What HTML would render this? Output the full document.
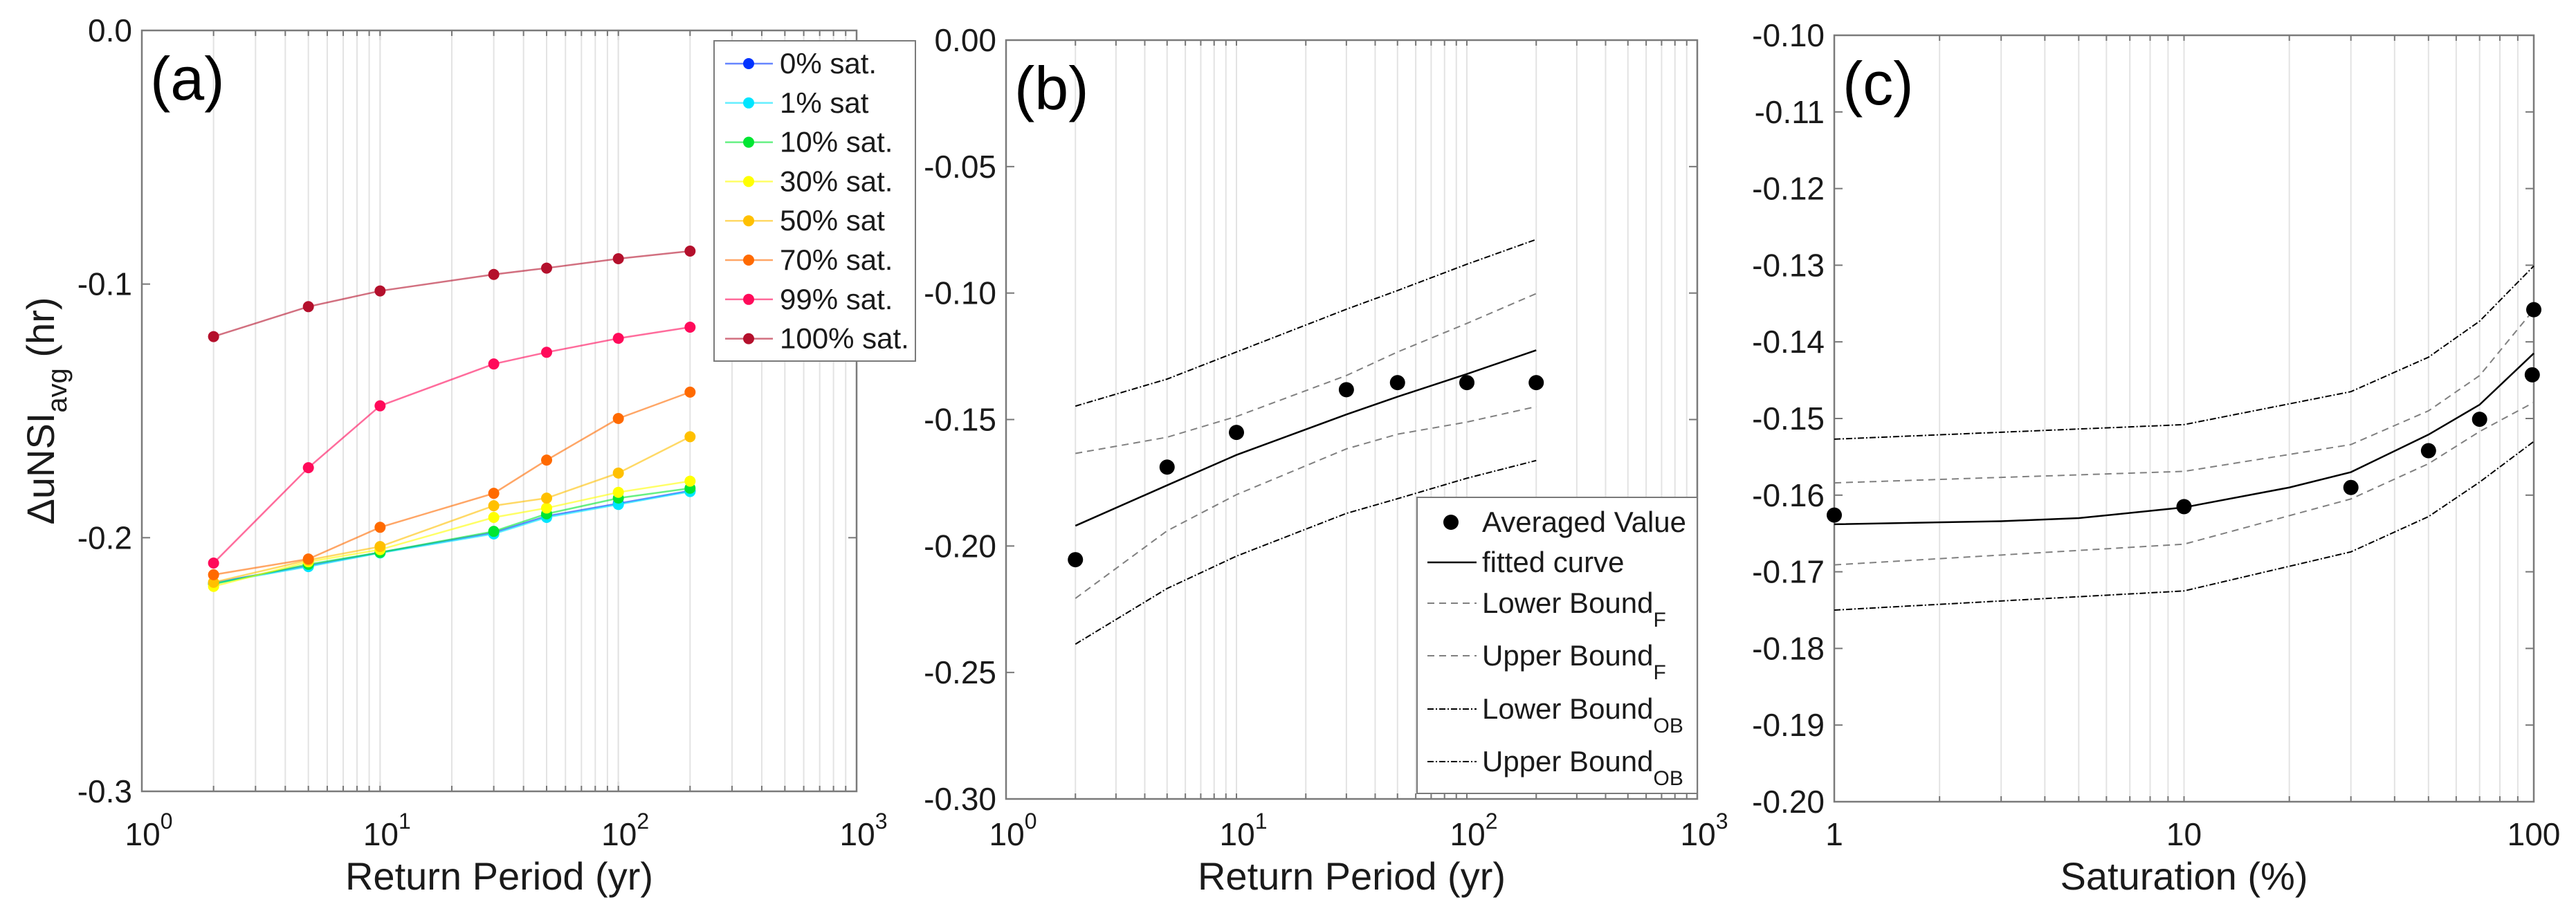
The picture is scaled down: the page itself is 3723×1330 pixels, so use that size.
<!DOCTYPE html>
<html><head><meta charset="utf-8"><style>
html,body{margin:0;padding:0;background:#fff;}
svg{display:block;font-family:"Liberation Sans",Arial,sans-serif;}
</style></head><body>
<svg id="fig" width="3723" height="1330" viewBox="0 0 3723 1330" xmlns="http://www.w3.org/2000/svg"></svg>
<script>
// ---------- Panel (a) data ----------
const aX = [2,5,10,30,50,100,200];
const aNames = ["0% sat.","1% sat","10% sat.","30% sat.","50% sat","70% sat.","99% sat.","100% sat."];
const aColors = ["#0033ff","#00e5ff","#00e632","#ffff00","#ffc000","#ff6a00","#ff0a5a","#b4102c"];
const aS0 = [-0.2178,-0.2110,-0.2058,-0.1980,-0.1915,-0.1865,-0.1815];
const aS1 = [-0.2180,-0.2114,-0.2060,-0.1985,-0.1920,-0.1869,-0.1818];
const aS10 = [-0.2183,-0.2105,-0.2058,-0.1975,-0.1906,-0.1844,-0.1805];
const aS30 = [-0.2192,-0.2095,-0.2047,-0.1920,-0.1883,-0.1821,-0.1777];
const aS50 = [-0.2176,-0.2088,-0.2035,-0.1874,-0.1844,-0.1745,-0.1602];
const aS70 = [-0.2146,-0.2084,-0.1959,-0.1825,-0.1694,-0.1530,-0.1426];
const aS99 = [-0.2100,-0.1724,-0.1480,-0.1315,-0.1269,-0.1214,-0.1170];
const aS100 = [-0.1207,-0.1089,-0.1027,-0.0962,-0.0937,-0.0900,-0.0870];
const aSeries = [aS0,aS1,aS10,aS30,aS50,aS70,aS99,aS100];
const aYTicks = [0,-0.1,-0.2,-0.3];
const aYLabels = ["0.0","-0.1","-0.2","-0.3"];
// ---------- Panel (b) data ----------
const bX = [2,5,10,30,50,100,200];
const bAvg = [-0.2054,-0.1688,-0.1551,-0.1382,-0.1354,-0.1354,-0.1354];
const bFit = [-0.1920,-0.1760,-0.1640,-0.1480,-0.1410,-0.1320,-0.1226];
const bLowF = [-0.2207,-0.1940,-0.1797,-0.1616,-0.1558,-0.1510,-0.1449];
const bUpF = [-0.1634,-0.1570,-0.1488,-0.1326,-0.1233,-0.1120,-0.1002];
const bLowOB = [-0.2388,-0.2168,-0.2040,-0.1871,-0.1813,-0.1732,-0.1662];
const bUpOB = [-0.1447,-0.1340,-0.1233,-0.1064,-0.0990,-0.0886,-0.0788];
const bYTicks = [0,-0.05,-0.1,-0.15,-0.2,-0.25,-0.3];
const bYLabels = ["0.00","-0.05","-0.10","-0.15","-0.20","-0.25","-0.30"];
// ---------- Panel (c) data ----------
const cX = [1,10,30,50,70,99,100];
const cAvg = [-0.1626,-0.1615,-0.1590,-0.1542,-0.1501,-0.1443,-0.1358];
const cFitX = [1,3,5,10,20,30,50,70,100];
const cFit = [-0.1638,-0.1634,-0.1630,-0.1616,-0.1590,-0.1570,-0.1521,-0.1482,-0.1415];
const cBX = [1,10,30,50,70,100];
const cUpF = [-0.1584,-0.1569,-0.1534,-0.1490,-0.1444,-0.1358];
const cLowF = [-0.1691,-0.1664,-0.1605,-0.1559,-0.1517,-0.1479];
const cUpOB = [-0.1527,-0.1508,-0.1465,-0.1420,-0.1373,-0.1301];
const cLowOB = [-0.1750,-0.1725,-0.1674,-0.1628,-0.1583,-0.1530];
const cYTicks = [-0.10,-0.11,-0.12,-0.13,-0.14,-0.15,-0.16,-0.17,-0.18,-0.19,-0.20];
const cYLabels = ["-0.10","-0.11","-0.12","-0.13","-0.14","-0.15","-0.16","-0.17","-0.18","-0.19","-0.20"];

const NS="http://www.w3.org/2000/svg";
const svg=document.getElementById('fig');
function mk(tag,attrs,parent){const e=document.createElementNS(NS,tag);for(const k in attrs)e.setAttribute(k,attrs[k]);(parent||svg).appendChild(e);return e;}

function makePanel(p){
  const g=mk('g',{});
  
  
  const lx0=Math.log10(p.xmin), lx1=Math.log10(p.xmax);
  p.sx=v=>p.L+(Math.log10(v)-lx0)/(lx1-lx0)*(p.R-p.L);
  p.sy=v=>p.T+(p.ymax-v)/(p.ymax-p.ymin)*(p.B-p.T);
  // grid
  const grid=mk('g',{},g);
  
  
  for(let d=Math.floor(lx0);d<lx1;d++){
    for(let m=1;m<=10;m++){
      const v=m*Math.pow(10,d); if(v<=p.xmin||v>=p.xmax) continue;
      const x=p.sx(v);
      mk('line',{x1:x,x2:x,y1:p.T,y2:p.B,stroke:'#e3e3e3','stroke-width':2},grid);
      mk('line',{x1:x,x2:x,y1:p.B,y2:p.B-(m===10?14:8),stroke:'#777','stroke-width':2},grid);
      mk('line',{x1:x,x2:x,y1:p.T,y2:p.T+(m===10?14:8),stroke:'#777','stroke-width':2},grid);
    }
  }
  // y ticks
  p.yTicks.forEach((v,i)=>{
    const y=p.sy(v);
    mk('line',{x1:p.L,x2:p.L+12,y1:y,y2:y,stroke:'#777','stroke-width':2},g);
    mk('line',{x1:p.R,x2:p.R-12,y1:y,y2:y,stroke:'#777','stroke-width':2},g);
    const t=mk('text',{x:p.L-14,y:y+16,'text-anchor':'end','font-size':46,fill:'#1a1a1a'},g);
    t.textContent=p.yLabels[i];
    
    
  });
  // x tick labels
  p.xTicks.forEach((v,i)=>{
    const x=p.sx(v);
    const t=mk('text',{x:x+(p.sup?10:0),y:1222,'text-anchor':'middle','font-size':46,fill:'#1a1a1a'},g);
    
    
    if(p.sup){t.textContent='10';const s=mk('tspan',{dy:-24,'font-size':32},t);s.textContent=String(i);}
    else t.textContent=p.xLabels[i];
  });
  // axes box
  const box=mk('rect',{x:p.L,y:p.T,width:p.R-p.L,height:p.B-p.T,fill:'none',stroke:'#7a7a7a','stroke-width':2.5},g);
  
  
  // x label
  const xl=mk('text',{x:(p.L+p.R)/2,y:1286,'text-anchor':'middle','font-size':56,fill:'#1a1a1a'},g);
  xl.textContent=p.xlabel;
  
  
  // panel label
  const pl=mk('text',{x:p.L+12,y:p.T+100,'font-size':88,fill:'#000'},g);
  pl.textContent=p.tag;
  
  
  p.g=g;
  return p;
}
function poly(p,xs,ys,attrs,name){
  const pts=xs.map((x,i)=>p.sx(x)+','+p.sy(ys[i])).join(' ');
  const e=mk('polyline',Object.assign({points:pts,fill:'none'},attrs),p.g);
  
  
  return e;
}
function dots(p,xs,ys,r,fill,name){
  xs.forEach((x,i)=>{
    const c=mk('circle',{cx:p.sx(x),cy:p.sy(ys[i]),r:r,fill:fill},p.g);
    
    
  });
}

// Panel a
const pa=makePanel({name:'panel-a',L:205,R:1238,T:44,B:1144,xmin:1,xmax:1000,ymin:-0.3,ymax:0,yTicks:aYTicks,yLabels:aYLabels,xTicks:[1,10,100,1000],sup:true,xlabel:'Return Period (yr)',tag:'(a)'});
aSeries.forEach((s,k)=>{
  poly(pa,aX,s,{stroke:aColors[k],'stroke-width':2.5,'stroke-opacity':0.6},'series-line-'+k);
  dots(pa,aX,s,8,aColors[k],'series-point-'+k);
});
const yl=mk('text',{x:0,y:0,'text-anchor':'middle','font-size':56,fill:'#1a1a1a',transform:'translate(78,594) rotate(-90)'});


yl.textContent='ΔuNSI';
const ys1=mk('tspan',{dy:18,'font-size':40},yl);ys1.textContent='avg';
const ys2=mk('tspan',{dy:-18},yl);ys2.textContent=' (hr)';
// legend a
const lga=mk('g',{});


mk('rect',{x:1032,y:59,width:291,height:463,fill:'#fff',stroke:'#7a7a7a','stroke-width':2},lga);
aNames.forEach((n,k)=>{
  const y=92+k*56.8;
  mk('line',{x1:1048,x2:1117,y1:y,y2:y,stroke:aColors[k],'stroke-width':2.5,'stroke-opacity':0.6},lga);
  mk('circle',{cx:1082,cy:y,r:8,fill:aColors[k]},lga);
  const t=mk('text',{x:1127,y:y+14,'font-size':42,fill:'#1a1a1a'},lga);
  t.textContent=n;
  
  
});

// Panel b
const pb=makePanel({name:'panel-b',L:1454,R:2453,T:58,B:1155,xmin:1,xmax:1000,ymin:-0.3,ymax:0,yTicks:bYTicks,yLabels:bYLabels,xTicks:[1,10,100,1000],sup:true,xlabel:'Return Period (yr)',tag:'(b)'});
const sF={stroke:'#000','stroke-width':2.5};
const sD={stroke:'#808080','stroke-width':2,'stroke-dasharray':'10,7'};
const sO={stroke:'#000','stroke-width':2,'stroke-dasharray':'9,3,2,3'};
poly(pb,bX,bFit,sF,'fitted-curve');
poly(pb,bX,bLowF,sD,'lower-bound-f');
poly(pb,bX,bUpF,sD,'upper-bound-f');
poly(pb,bX,bLowOB,sO,'lower-bound-ob');
poly(pb,bX,bUpOB,sO,'upper-bound-ob');
dots(pb,bX,bAvg,11,'#000','averaged-value');
// legend b
const lgb=mk('g',{});


mk('rect',{x:2048,y:719,width:405,height:428,fill:'#fff',stroke:'#7a7a7a','stroke-width':2},lgb);
const bLeg=[['Averaged Value','',null],['fitted curve','',sF],['Lower Bound','F',sD],['Upper Bound','F',sD],['Lower Bound','OB',sO],['Upper Bound','OB',sO]];
const bLegY=[755,813,872,948,1025,1101];
bLeg.forEach((e,k)=>{
  const y=bLegY[k];
  if(e[2]) mk('line',Object.assign({x1:2063,x2:2134,y1:y,y2:y},e[2]),lgb);
  else mk('circle',{cx:2097,cy:y,r:11,fill:'#000'},lgb);
  const t=mk('text',{x:2142,y:y+14,'font-size':42,fill:'#1a1a1a'},lgb);
  t.textContent=e[0];
  
  
  if(e[1]){const s=mk('tspan',{dy:20,'font-size':30},t);s.textContent=e[1];}
});

// Panel c
const pc=makePanel({name:'panel-c',L:2651,R:3662,T:51,B:1159,xmin:1,xmax:100,ymin:-0.2,ymax:-0.1,yTicks:cYTicks,yLabels:cYLabels,xTicks:[1,10,100],xLabels:['1','10','100'],sup:false,xlabel:'Saturation (%)',tag:'(c)'});
poly(pc,cFitX,cFit,sF,'fitted-curve');
poly(pc,cBX,cLowF,sD,'lower-bound-f');
poly(pc,cBX,cUpF,sD,'upper-bound-f');
poly(pc,cBX,cLowOB,sO,'lower-bound-ob');
poly(pc,cBX,cUpOB,sO,'upper-bound-ob');
dots(pc,cX,cAvg,11,'#000','averaged-value');
</script>
</body></html>
